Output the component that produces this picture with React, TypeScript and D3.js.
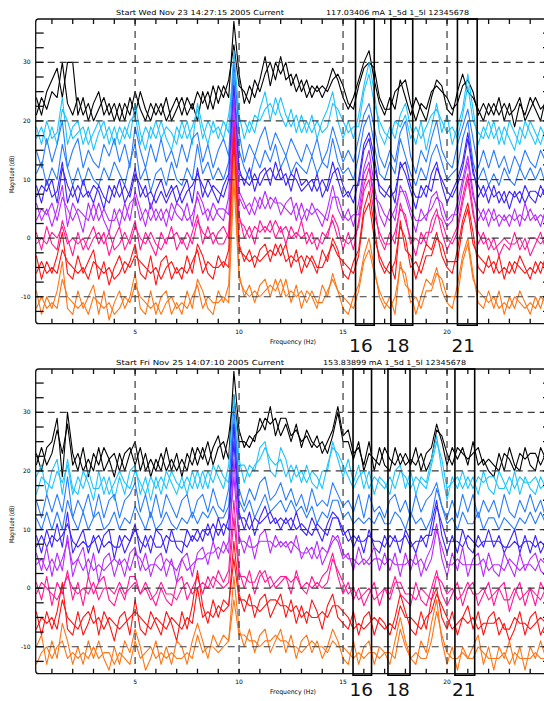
import React, { useEffect, useRef } from 'react';
import * as d3 from 'd3';

// frequency bins of the spectra, 0.25 Hz resolution
const freqs = d3.range(1, 100).map(i => i * 0.25);

const xTicks = [5, 10, 15, 20];
const yTicks = [30, 20, 10, 0, -10];

// channel colours, top to bottom
const channelColors = ['#000000', '#1ec4ff', '#2a7cff', '#3c24ff', '#b62cff', '#ff1a96', '#ff1414', '#ff7414'];

// ---- top panel (Wed Nov 23) : two traces per channel, dB ----
const topBlack = [
  [24,21,25,27,29,24,30,30,21,24,20,23,25,21,23,20,23,20,24,21,25,22,20,23,21,24,20,22,24,21,23,20,25,22,26,23,26,24,37,28,23,26,24,27,31,26,30,28,30,26,28,25,27,24,26,24,26,29,27,24,22,24,27,30,32,27,23,21,24,22,27,24,21,24,22,20,24,27,26,22,21,25,28,25,24,22,20,23,21,24,20,23,19,23,21,24,22,20,24],
  [21,24,22,25,24,30,23,21,24,21,23,20,22,24,21,23,20,23,21,25,22,20,23,21,23,20,22,24,21,24,22,25,23,25,22,26,24,27,33,26,25,23,27,25,28,30,27,31,27,28,25,27,24,26,25,26,25,27,28,26,23,22,26,29,30,29,24,22,22,25,26,27,23,20,23,22,25,26,25,24,22,23,26,27,25,21,23,21,23,21,23,21,22,24,20,22,24,22,23],
];
const topCyan = [
  [19,16,20,17,18,24,16,19,20,16,19,15,18,20,16,19,16,19,17,23,18,15,19,17,20,17,15,19,17,20,16,23,19,16,20,17,20,18,32,21,17,20,18,22,25,20,24,21,19,22,18,21,18,21,17,20,22,25,20,17,20,17,21,26,30,25,18,16,19,17,21,23,19,16,20,15,19,23,18,21,16,19,22,28,22,16,19,17,20,16,19,17,15,19,17,20,18,16,19],
  [17,19,16,19,16,22,20,17,18,19,16,18,20,17,19,16,19,17,20,21,16,19,17,20,17,19,18,16,20,17,19,22,17,20,18,19,17,21,28,20,20,18,21,20,22,23,21,24,21,19,21,18,20,18,20,18,19,23,22,20,18,19,19,25,28,23,20,18,17,20,19,21,17,19,17,19,21,22,20,18,19,17,21,26,20,18,17,20,17,19,16,20,18,16,20,18,16,19,17],
];
const topDodger = [
  [15,12,17,13,16,20,12,15,17,12,15,13,12,16,14,17,13,16,12,19,15,12,16,13,17,13,15,12,16,13,17,18,13,16,12,15,17,14,30,18,13,16,14,17,19,15,18,16,14,17,15,13,16,14,17,13,15,19,16,13,15,13,17,21,23,19,14,12,15,13,18,20,14,11,15,13,17,20,15,13,12,16,19,22,17,12,15,12,15,12,14,11,14,12,15,13,12,15,13],
  [11,13,9,12,10,16,12,9,12,9,12,10,9,12,10,13,11,9,13,16,10,12,8,11,12,9,13,10,9,12,10,16,11,13,10,12,10,13,27,15,12,10,14,12,15,13,16,12,14,11,13,12,11,14,11,13,12,17,13,11,12,10,14,19,21,16,11,10,13,11,17,14,11,9,12,10,14,16,13,10,11,12,17,20,13,10,12,9,11,9,12,10,9,12,10,12,10,12,9],
];
const topViolet = [
  [9,6,10,7,8,13,6,9,6,10,7,9,8,5,9,7,10,6,8,12,7,9,5,8,10,7,9,6,8,10,6,12,7,10,8,6,9,11,26,12,9,12,8,11,12,9,13,10,11,8,12,9,10,8,11,7,9,13,10,7,8,6,10,16,18,14,8,7,9,6,13,11,8,5,9,7,11,13,9,6,8,10,13,18,12,7,9,6,9,6,8,5,8,6,9,7,6,9,7],
  [7,9,8,10,6,12,9,7,9,7,8,6,9,7,6,9,7,9,7,11,9,7,8,6,8,6,8,9,6,8,9,11,9,7,9,8,7,10,24,11,10,9,11,9,11,12,10,12,9,11,10,8,9,10,8,10,8,11,12,9,7,9,9,15,17,12,9,8,7,8,12,13,9,7,7,9,8,12,10,8,7,9,12,17,11,9,7,9,7,8,6,8,7,8,6,8,8,7,9],
];
const topPurple = [
  [6,3,5,2,5,9,2,6,4,1,6,3,6,3,1,5,2,6,3,8,5,2,6,3,5,2,6,4,3,6,2,8,6,3,6,4,3,7,24,8,6,4,7,5,8,5,7,4,6,7,3,6,3,6,4,2,5,9,5,3,5,2,6,12,15,9,4,2,5,3,9,7,4,1,5,3,7,8,4,2,3,6,10,14,8,3,5,2,5,2,4,2,5,2,6,3,4,2,5],
  [3,5,4,6,3,7,5,3,5,4,3,6,3,5,3,3,5,3,6,7,3,5,3,5,3,5,3,6,5,3,4,7,4,5,3,5,5,4,21,7,5,6,4,7,5,7,6,6,5,4,6,3,5,4,5,4,3,7,7,4,3,4,4,11,13,7,6,4,3,5,8,8,5,3,3,4,5,7,6,3,4,4,9,13,7,5,3,5,3,4,3,4,3,4,3,5,3,4,3],
];
const topPink = [
  [1,-2,2,-1,-2,3,0,-3,1,-2,0,2,-1,1,-3,0,2,-2,0,3,-2,1,-1,-3,1,-1,2,-2,0,-2,1,4,-1,2,-1,1,2,0,20,4,0,2,-1,3,1,3,0,2,-1,2,0,3,-1,1,-2,1,0,4,2,-2,1,-2,3,9,12,6,0,-2,1,-1,6,3,0,-3,1,-1,3,5,1,-2,0,2,7,11,5,-1,1,-2,0,-3,-1,-2,1,-2,0,-3,-1,1,-2],
  [-1,0,-1,1,0,2,-1,0,-1,0,-2,0,1,-1,1,-2,-1,1,-1,2,0,-1,1,-1,-2,0,0,1,-1,1,-1,3,1,0,1,-1,-1,1,17,3,2,0,2,1,2,1,3,1,2,0,1,0,1,-1,0,-1,1,3,0,0,-1,0,2,8,10,4,1,-1,-1,1,5,4,-1,0,-1,1,1,4,3,0,-1,1,6,10,4,1,-1,0,-2,-1,0,-1,-1,0,-2,0,0,-1,0],
];
const topRed = [
  [-3,-7,-4,-6,-3,1,-6,-7,-3,-6,-4,-2,-7,-4,-8,-5,-3,-6,-4,-1,-6,-7,-3,-8,-4,-3,-7,-5,-7,-3,-6,-1,-3,-6,-7,-3,-5,-2,19,-1,-4,-2,-5,-2,-1,-4,-1,-3,-1,-5,-2,-6,-3,-4,-6,-2,-4,0,-2,-6,-7,-4,-2,5,8,2,-4,-6,-4,-7,3,-2,-3,-7,-4,-1,-2,1,-3,-5,-6,-2,3,6,1,-5,-6,-3,-6,-3,-7,-4,-6,-3,-5,-7,-4,-6,-3],
  [-6,-4,-6,-5,-6,-2,-4,-5,-6,-5,-7,-4,-5,-6,-5,-7,-6,-4,-5,-3,-4,-5,-6,-5,-7,-5,-4,-6,-5,-6,-4,-2,-6,-4,-5,-5,-4,-5,16,-2,-3,-4,-3,-4,-3,-2,-3,-1,-4,-3,-4,-3,-5,-3,-5,-5,-3,-1,-3,-4,-5,-6,-3,4,6,0,-3,-5,-6,-4,2,0,-5,-4,-6,-3,-3,0,-1,-4,-4,-4,2,5,-1,-3,-4,-5,-4,-6,-5,-6,-4,-5,-6,-5,-6,-4,-5],
];
const topOrange = [
  [-9,-13,-10,-12,-9,-4,-12,-13,-9,-12,-10,-8,-13,-9,-14,-11,-9,-12,-10,-6,-12,-13,-9,-13,-10,-9,-13,-11,-13,-9,-12,-7,-9,-12,-13,-9,-11,-8,14,-6,-10,-8,-11,-8,-7,-10,-7,-10,-7,-11,-8,-12,-9,-10,-12,-8,-10,-6,-9,-12,-13,-10,-8,-3,0,-5,-10,-12,-10,-13,-4,-8,-9,-13,-10,-7,-8,-5,-9,-11,-12,-8,-3,0,-6,-11,-12,-9,-12,-9,-13,-10,-12,-9,-11,-13,-10,-12,-9],
  [-12,-10,-12,-11,-12,-7,-10,-11,-12,-11,-13,-10,-11,-12,-11,-13,-12,-10,-11,-8,-10,-11,-12,-11,-13,-11,-10,-12,-11,-12,-10,-8,-12,-10,-11,-11,-10,-11,10,-7,-9,-10,-9,-10,-9,-8,-9,-7,-10,-9,-10,-9,-11,-9,-11,-11,-9,-7,-9,-10,-11,-12,-9,-4,-2,-6,-9,-11,-12,-10,-5,-6,-11,-10,-12,-9,-9,-6,-7,-10,-10,-10,-4,-1,-7,-9,-10,-11,-10,-12,-11,-12,-10,-11,-12,-11,-12,-10,-11],
];

// ---- bottom panel (Fri Nov 25) ----
const botBlack = [
  [23,20,24,25,29,19,30,23,20,24,19,23,21,24,22,19,23,20,23,25,20,23,19,22,20,24,20,23,19,23,21,24,22,25,21,24,25,22,37,27,24,26,25,29,27,31,26,29,29,26,27,25,26,24,26,23,25,27,31,26,27,23,24,21,25,20,24,21,20,24,21,23,21,24,20,23,24,28,25,21,24,22,24,21,25,21,22,20,19,23,20,24,21,20,24,21,20,24,22],
  [21,24,21,23,27,23,28,21,23,20,22,20,24,20,22,23,20,23,24,21,24,20,22,20,23,20,22,20,22,20,24,21,24,21,24,26,22,26,33,25,25,24,26,27,29,28,29,26,28,25,28,24,27,25,24,25,23,26,30,25,25,22,25,20,23,22,21,24,22,21,23,21,22,21,23,20,22,27,26,23,21,24,23,22,23,24,21,22,21,20,23,22,20,23,22,23,23,21,23],
];
const botCyan = [
  [19,21,16,20,22,16,22,17,16,20,18,15,20,16,19,15,19,16,20,21,16,19,15,19,16,20,18,16,19,16,20,17,20,17,21,19,17,21,33,22,18,21,20,24,25,20,19,24,22,18,21,18,21,18,17,20,20,25,22,19,22,18,21,17,20,16,19,18,16,20,21,17,20,16,19,18,22,26,20,15,19,17,20,17,19,16,20,17,16,20,18,16,20,16,19,17,16,19,17],
  [16,19,18,17,20,18,21,16,19,17,20,17,17,19,16,18,20,18,17,20,18,16,19,17,19,17,20,18,17,19,17,20,17,20,18,21,19,18,29,21,21,19,21,22,24,22,21,22,19,21,19,20,18,20,19,17,21,24,23,21,19,17,19,20,17,19,18,17,19,17,20,19,17,19,18,17,21,25,22,17,18,19,17,19,17,19,18,19,19,17,17,19,17,19,18,18,19,17,18],
];
const botDodger = [
  [15,12,16,13,16,13,19,12,15,13,16,12,16,12,15,16,12,15,16,18,13,16,12,16,12,16,14,12,15,16,12,15,16,13,17,14,13,17,31,17,14,17,15,18,19,15,16,18,15,17,14,16,13,17,14,15,14,18,16,14,15,13,16,12,16,13,14,12,15,16,13,15,12,16,13,15,16,18,14,12,15,12,16,13,16,12,15,13,15,12,16,13,12,15,13,16,13,15,12],
  [12,10,13,10,13,10,15,12,10,13,10,12,13,10,11,13,10,12,11,14,12,10,13,10,11,13,11,10,12,11,13,11,13,12,14,12,12,14,28,15,13,15,12,14,16,13,14,15,13,15,13,14,12,14,11,13,12,15,15,12,13,11,12,11,12,11,13,11,11,13,12,10,13,11,12,10,12,17,14,11,12,10,13,11,11,13,10,12,12,10,12,11,10,12,11,13,11,13,11],
];
const botViolet = [
  [9,6,10,7,11,7,13,6,8,10,6,9,6,9,10,5,9,6,8,11,6,9,6,10,9,6,10,7,6,10,8,10,8,11,8,12,9,12,28,13,10,13,9,12,14,11,12,10,12,10,13,10,9,12,10,8,11,13,12,9,10,7,9,6,10,7,6,9,7,9,6,10,8,6,9,7,11,15,9,6,9,6,10,7,6,9,7,10,7,9,6,8,10,6,9,6,9,6,8],
  [7,9,7,9,8,9,11,8,7,8,7,8,9,7,8,7,7,9,8,10,8,7,9,7,7,9,8,8,8,7,9,8,10,9,11,9,11,10,25,12,12,10,12,11,12,13,11,12,11,12,10,11,10,9,11,10,9,12,12,10,8,9,8,8,9,8,8,7,9,8,8,9,7,8,8,9,9,14,11,8,8,8,7,9,8,7,8,8,8,8,7,7,8,7,8,8,7,8,7],
];
const botPurple = [
  [6,3,7,2,6,3,9,2,5,7,2,6,1,5,6,2,5,2,6,7,3,6,2,5,6,2,5,1,5,6,2,6,7,4,8,5,8,6,22,9,6,9,5,9,10,6,9,7,8,6,9,5,7,5,8,4,6,9,8,5,6,3,7,4,5,7,3,6,3,6,2,6,3,6,2,5,7,11,5,2,6,3,7,2,5,6,2,6,3,2,6,4,2,6,3,5,6,3,2],
  [4,5,3,5,3,5,8,4,5,3,5,3,4,3,4,5,4,5,3,6,5,3,4,4,3,5,4,3,5,3,4,5,5,6,6,7,6,8,19,8,8,7,7,8,8,8,7,8,7,8,7,6,6,7,5,7,6,8,9,6,5,5,4,5,4,5,5,4,5,4,4,4,5,4,5,3,5,10,7,4,4,5,4,4,4,4,5,3,4,4,3,5,4,3,4,4,3,5,4],
];
const botPink = [
  [1,-2,2,-3,1,-1,3,-2,1,-3,2,-1,1,2,-2,-3,0,-2,2,2,-1,1,-1,-3,0,-2,-3,1,2,-2,0,2,-1,2,0,3,1,3,15,3,0,3,-1,2,3,0,1,2,2,-1,3,0,-1,2,0,2,3,6,2,-1,1,-2,0,-3,-1,1,-3,0,-1,2,-1,-2,-3,1,-2,-3,0,3,-1,-3,-1,1,-3,0,1,-3,-1,1,-3,0,1,-4,-1,1,-3,0,-3,1,-1],
  [-1,1,0,-1,-2,0,2,0,-1,0,-1,1,-2,0,0,-1,1,-1,0,1,-1,0,-2,-1,1,-1,-1,-2,0,1,-1,0,1,0,2,1,0,1,12,2,2,1,1,3,1,2,0,1,2,1,2,0,1,0,1,0,1,5,3,1,-1,0,-2,-1,0,-2,-1,0,-2,1,1,-1,-1,-2,0,-1,-2,2,1,-1,0,-2,-1,1,-1,-1,0,-2,-1,0,-2,-2,0,-2,-1,0,-1,-2,0],
];
const botRed = [
  [-4,-8,-4,-7,-4,1,-7,-8,-4,-8,-6,-3,-8,-4,-6,-9,-5,-4,-8,-2,-7,-8,-4,-6,-8,-4,-6,-9,-4,-7,-3,3,-3,-6,-2,-5,-2,-3,8,-1,-4,-1,-5,-2,-1,-5,-3,-1,-5,-2,-6,-3,-6,-2,-4,-7,-3,-1,-5,-6,-7,-4,-8,-5,-4,-8,-5,-6,-8,-5,-1,-4,-7,-8,-4,-7,-2,0,-5,-7,-4,-8,-5,-3,-7,-4,-8,-5,-4,-8,-6,-9,-7,-4,-8,-5,-4,-8,-6],
  [-7,-5,-6,-5,-7,-2,-5,-6,-7,-5,-4,-6,-5,-7,-5,-6,-7,-6,-5,-4,-5,-6,-7,-5,-6,-7,-5,-6,-7,-5,-6,0,-5,-4,-5,-3,-4,-3,5,-2,-2,-3,-3,-4,-3,-2,-2,-3,-3,-4,-3,-5,-4,-5,-5,-4,-5,-3,-3,-4,-5,-7,-6,-7,-6,-5,-6,-7,-6,-7,-3,-5,-5,-6,-7,-5,-4,-1,-3,-5,-7,-6,-5,-6,-5,-7,-6,-6,-6,-5,-7,-7,-5,-6,-6,-7,-6,-5,-6],
];
const botOrange = [
  [-10,-8,-13,-9,-12,-6,-9,-13,-10,-13,-9,-12,-9,-12,-14,-10,-13,-9,-11,-7,-10,-14,-12,-9,-13,-10,-13,-9,-10,-13,-9,-6,-9,-12,-8,-10,-8,-9,2,-7,-10,-7,-11,-8,-7,-11,-9,-7,-11,-8,-12,-9,-8,-11,-9,-12,-10,-7,-9,-12,-13,-9,-13,-10,-9,-13,-10,-11,-13,-9,-5,-9,-12,-13,-9,-11,-6,-2,-9,-13,-10,-14,-10,-12,-10,-8,-13,-10,-14,-10,-12,-9,-13,-10,-14,-10,-12,-9,-12],
  [-13,-11,-10,-12,-10,-9,-12,-11,-12,-11,-12,-10,-12,-11,-11,-13,-11,-12,-13,-9,-12,-11,-10,-12,-11,-12,-11,-12,-12,-11,-12,-8,-11,-10,-10,-11,-10,-9,-2,-8,-8,-9,-9,-10,-9,-9,-8,-9,-9,-10,-10,-11,-10,-9,-10,-10,-11,-9,-10,-10,-11,-12,-11,-12,-11,-11,-12,-11,-11,-12,-7,-10,-12,-11,-12,-12,-9,-4,-8,-11,-12,-12,-11,-12,-12,-10,-11,-12,-12,-12,-11,-13,-11,-12,-12,-12,-11,-12,-12],
];

const topSeries = [topBlack, topCyan, topDodger, topViolet, topPurple, topPink, topRed, topOrange];
const botSeries = [botBlack, botCyan, botDodger, botViolet, botPurple, botPink, botRed, botOrange];

// marked bands (Hz)
const boxLabels = ['16', '18', '21'];
const topBoxes = [[15.6, 16.5], [17.3, 18.35], [20.5, 21.45]];
const botBoxes = [[15.48, 16.37], [17.16, 18.22], [20.38, 21.33]];

const panels = [
  { top: 19, labelGap: 28, labelShift: -4, title: 'Start Wed Nov 23 14:27:15 2005   Current', info: '117.03406 mA  1_5d  1_5l  12345678', series: topSeries, boxes: topBoxes },
  { top: 369, labelGap: 22.5, labelShift: -1, title: 'Start Fri Nov 25 14:07:10 2005   Current', info: '153.83899 mA  1_5d  1_5l  12345678', series: botSeries, boxes: botBoxes },
];

const W = 544;
const H = 701;

const App = () => {
  const svgRef = useRef(null);

  useEffect(() => {
    const svg = d3.select(svgRef.current);
    svg.selectAll('*').remove();

    const plotLeft = 35.7;
    const plotRight = 551;
    const plotH = 304.7;
    const x = d3.scaleLinear().domain([0.22, 25]).range([plotLeft, plotRight]);
    const font = 'DejaVu Sans, sans-serif';

    panels.forEach((p, pi) => {
      const bottom = p.top + plotH;
      const y = d3.scaleLinear().domain([-14.6, 37.4]).range([bottom, p.top]);
      const g = svg.append('g');

      g.append('clipPath').attr('id', `clip${pi}`)
        .append('rect').attr('x', plotLeft).attr('y', p.top)
        .attr('width', plotRight - plotLeft).attr('height', plotH);

      // titles
      g.append('text').attr('x', 116).attr('y', p.top - 4)
        .attr('font-family', font).attr('font-size', 7)
        .attr('textLength', 168).attr('lengthAdjust', 'spacingAndGlyphs')
        .text(p.title);
      g.append('text').attr('x', pi === 0 ? 326 : 323).attr('y', p.top - 4)
        .attr('font-family', font).attr('font-size', 7)
        .attr('textLength', 143).attr('lengthAdjust', 'spacingAndGlyphs')
        .text(p.info);

      // spectra
      const line = d3.line<number>()
        .x((d, i) => x(freqs[i]))
        .y(d => y(d));
      const lines = g.append('g').attr('clip-path', `url(#clip${pi})`);
      p.series.forEach((pair, ci) => {
        pair.forEach(vals => {
          lines.append('path')
            .attr('d', line(vals))
            .attr('fill', 'none')
            .attr('stroke', channelColors[ci])
            .attr('stroke-width', 1.1)
            .attr('stroke-linejoin', 'round');
        });
      });

      // dashed grid
      const grid = g.append('g').attr('stroke', '#3a3a3a').attr('stroke-width', 1.2)
        .attr('stroke-dasharray', '7,5');
      yTicks.forEach(t => {
        grid.append('line').attr('x1', plotLeft).attr('x2', plotRight)
          .attr('y1', y(t)).attr('y2', y(t));
      });
      xTicks.forEach(t => {
        grid.append('line').attr('x1', x(t)).attr('x2', x(t))
          .attr('y1', p.top).attr('y2', bottom);
      });

      // frame and ticks
      const axis = g.append('g').attr('stroke', '#111').attr('stroke-width', 1.3);
      axis.append('rect').attr('x', plotLeft).attr('y', p.top)
        .attr('width', plotRight - plotLeft).attr('height', plotH)
        .attr('fill', 'none').attr('rx', 3);
      d3.range(1, 25).forEach(f => {
        axis.append('line').attr('x1', x(f)).attr('x2', x(f)).attr('y1', bottom).attr('y2', bottom - 5);
        axis.append('line').attr('x1', x(f)).attr('x2', x(f)).attr('y1', p.top).attr('y2', p.top + 5);
      });
      d3.range(-12.5, 37.4, 2.5).forEach(v => {
        axis.append('line').attr('x1', plotLeft).attr('x2', plotLeft + 8).attr('y1', y(v)).attr('y2', y(v));
        axis.append('line').attr('x1', plotRight).attr('x2', plotRight - 8).attr('y1', y(v)).attr('y2', y(v));
      });

      // tick labels
      xTicks.forEach(t => {
        g.append('text').attr('x', x(t)).attr('y', bottom + 10)
          .attr('text-anchor', 'middle').attr('font-family', font).attr('font-size', 6)
          .text(String(t));
      });
      yTicks.forEach(t => {
        g.append('text').attr('x', plotLeft - 5).attr('y', y(t) + 2)
          .attr('text-anchor', 'end').attr('font-family', font).attr('font-size', 6)
          .text(String(t));
      });
      g.append('text').attr('x', 293).attr('y', bottom + 20)
        .attr('text-anchor', 'middle').attr('font-family', font).attr('font-size', 6.5)
        .attr('textLength', 46).attr('lengthAdjust', 'spacingAndGlyphs')
        .text('Frequency (Hz)');
      g.append('text')
        .attr('transform', `translate(14,${p.top + plotH * 0.51}) rotate(-90)`)
        .attr('text-anchor', 'middle').attr('font-family', font).attr('font-size', 6.5)
        .attr('textLength', 37).attr('lengthAdjust', 'spacingAndGlyphs')
        .text('Magnitude (dB)');

      // marked bands
      p.boxes.forEach((b, bi) => {
        g.append('rect').attr('x', x(b[0])).attr('y', p.top)
          .attr('width', x(b[1]) - x(b[0])).attr('height', plotH + 1.5)
          .attr('fill', 'none').attr('stroke', '#000').attr('stroke-width', 1.6);
        g.append('text').attr('x', (x(b[0]) + x(b[1])) / 2 + p.labelShift).attr('y', bottom + p.labelGap)
          .attr('text-anchor', 'middle').attr('font-family', font).attr('font-size', 18.5)
          .attr('fill', '#111')
          .text(boxLabels[bi]);
      });
    });
  }, []);

  return (
    <svg ref={svgRef} width={W} height={H}
      style={{ position: 'absolute', left: 0, top: 0, background: '#fff' }} />
  );
};

export default App;
